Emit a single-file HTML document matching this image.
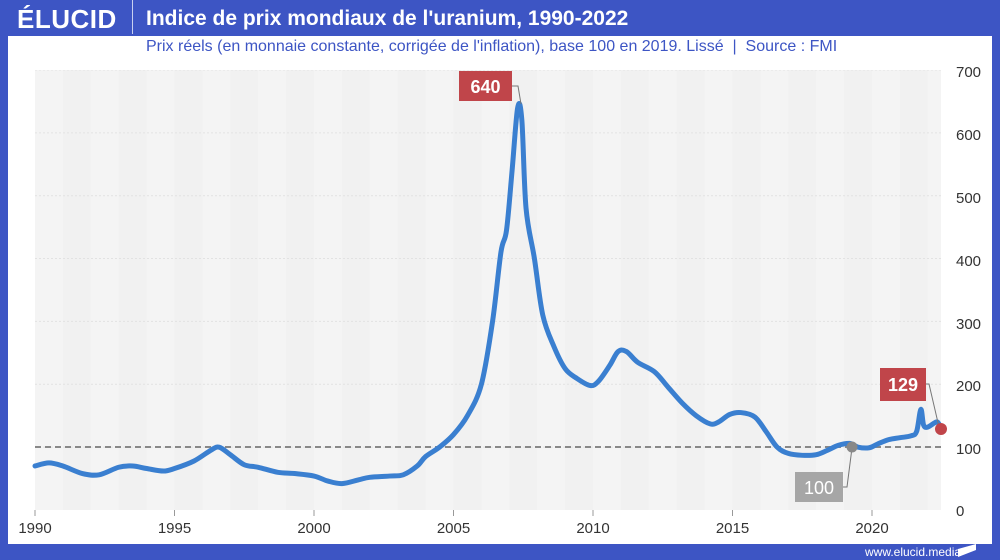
<!DOCTYPE html>
<html><head><meta charset="utf-8"><style>
body{margin:0;width:1000px;height:560px;overflow:hidden;background:#3d55c4;font-family:"Liberation Sans",sans-serif}
#w{position:absolute;left:8px;top:36px;width:984px;height:508px;background:#fff}
.t{position:absolute;white-space:nowrap}
</style></head><body>
<div class="t" style="left:17px;top:4px;color:#fff;font-weight:bold;font-size:26px;letter-spacing:0.5px">ÉLUCID</div>
<div style="position:absolute;left:132px;top:0;width:1px;height:34px;background:#c8d0f0"></div>
<div class="t" style="left:146px;top:7px;color:#fff;font-weight:bold;font-size:21px">Indice de prix mondiaux de l'uranium, 1990-2022</div>
<div id="w"></div>
<div class="t" style="left:146px;top:38px;color:#3d55c4;font-size:16px">Prix réels (en monnaie constante, corrigée de l'inflation), base 100 en 2019. Lissé &nbsp;|&nbsp; Source : FMI</div>
<div class="t" style="left:865px;top:545px;color:#fff;font-size:12px">www.elucid.media</div>
<svg style="position:absolute;left:958px;top:544px" width="20" height="14"><polygon points="0,5 18,0 18,6 0,13" fill="#fff"/></svg>
<svg id="s" style="position:absolute;left:0;top:0" width="1000" height="545">
<defs><clipPath id="c"><rect x="35" y="70" width="906" height="440"/></clipPath></defs>
<g id="bg" clip-path="url(#c)"></g>
<g font-family="Liberation Sans" font-size="15" fill="#333">
<text x="956" y="77">700</text><text x="956" y="140">600</text><text x="956" y="203">500</text><text x="956" y="266">400</text><text x="956" y="329">300</text><text x="956" y="391">200</text><text x="956" y="454">100</text><text x="956" y="516">0</text>
<text x="35" y="533" text-anchor="middle">1990</text><text x="174.5" y="533" text-anchor="middle">1995</text><text x="314" y="533" text-anchor="middle">2000</text><text x="453.5" y="533" text-anchor="middle">2005</text><text x="593" y="533" text-anchor="middle">2010</text><text x="732.5" y="533" text-anchor="middle">2015</text><text x="872" y="533" text-anchor="middle">2020</text>
</g>
<line x1="35" y1="447" x2="941" y2="447" stroke="#888" stroke-width="2" stroke-dasharray="6,4"/>
<path id="p" fill="none" stroke="#3a7fd0" stroke-width="5" stroke-linejoin="round" stroke-linecap="round"/>
<polyline points="512,86 518,86 521,104" fill="none" stroke="#777" stroke-width="1"/>
<rect x="459" y="71" width="53" height="30" fill="#c0454a"/><text x="485.5" y="93" text-anchor="middle" fill="#fff" font-size="18" font-weight="bold" font-family="Liberation Sans">640</text>
<polyline points="925,384 929,384 939,427" fill="none" stroke="#777" stroke-width="1"/>
<rect x="880" y="368" width="46" height="33" fill="#c0454a"/><text x="903" y="391" text-anchor="middle" fill="#fff" font-size="18" font-weight="bold" font-family="Liberation Sans">129</text>
<polyline points="843,487 847,487 852,448" fill="none" stroke="#777" stroke-width="1"/>
<rect x="795" y="472" width="48" height="30" fill="#a6a6a6"/><text x="819" y="494" text-anchor="middle" fill="#fff" font-size="18" font-family="Liberation Sans">100</text>
<circle cx="852" cy="447" r="5.5" fill="#888"/>
<circle cx="941" cy="429" r="6" fill="#c0454a"/>
</svg>
<script>
var X=y=>35+(y-1990)*27.9,Y=v=>510-v*0.6286;
var bg=document.getElementById('bg'),h='<rect x="35" y="70" width="906" height="440" fill="#f1f1f1"/>';
for(var i=1990;i<2023;i+=2)h+='<rect x="'+X(i)+'" y="70" width="27.9" height="440" fill="#f4f4f4"/>';
for(var v=100;v<=700;v+=100)h+='<line x1="35" x2="941" y1="'+Y(v)+'" y2="'+Y(v)+'" stroke="#e2e2e2" stroke-dasharray="2,2"/>';
bg.innerHTML=h;
var t='';for(var i=1990;i<=2020;i+=5)t+='<line x1="'+X(i)+'" x2="'+X(i)+'" y1="510" y2="516" stroke="#999"/>';
document.getElementById('s').insertAdjacentHTML('beforeend',t);
var d=[[1990,70],[1990.5,75],[1991,70],[1991.7,58],[1992.3,56],[1993,68],[1993.5,70],[1994,66],[1994.6,62],[1995,66],[1995.7,78],[1996.3,95],[1996.6,100],[1997,88],[1997.5,72],[1998,68],[1998.7,60],[1999.3,58],[2000,54],[2000.5,46],[2001,42],[2001.6,48],[2002,52],[2002.7,54],[2003.2,56],[2003.7,70],[2004,85],[2004.5,100],[2005,120],[2005.5,150],[2006,200],[2006.4,300],[2006.7,410],[2006.9,445],[2007.1,540],[2007.3,640],[2007.45,620],[2007.6,480],[2007.9,400],[2008.2,310],[2008.6,260],[2009,225],[2009.4,210],[2009.9,198],[2010.2,205],[2010.6,230],[2010.9,252],[2011.2,252],[2011.6,235],[2012.2,220],[2012.7,195],[2013.2,170],[2013.7,150],[2014.2,137],[2014.5,140],[2014.9,152],[2015.3,155],[2015.8,148],[2016.2,125],[2016.6,100],[2017,90],[2017.5,87],[2018,88],[2018.4,95],[2018.8,103],[2019.2,106],[2019.5,100],[2019.9,99],[2020.2,105],[2020.6,112],[2021,115],[2021.4,118],[2021.6,125],[2021.75,160],[2021.85,135],[2022,132],[2022.3,140],[2022.4,137]];
var p=d.map(a=>[X(a[0]),Y(a[1])]),s='M'+p[0];
for(var i=0;i<p.length-1;i++){var a=p[i-1]||p[i],b=p[i],c=p[i+1],e=p[i+2]||c;
s+='C'+(b[0]+(c[0]-a[0])/6)+','+(b[1]+(c[1]-a[1])/6)+' '+(c[0]-(e[0]-b[0])/6)+','+(c[1]-(e[1]-b[1])/6)+' '+c[0]+','+c[1];}
document.getElementById('p').setAttribute('d',s);
</script>
</body></html>
